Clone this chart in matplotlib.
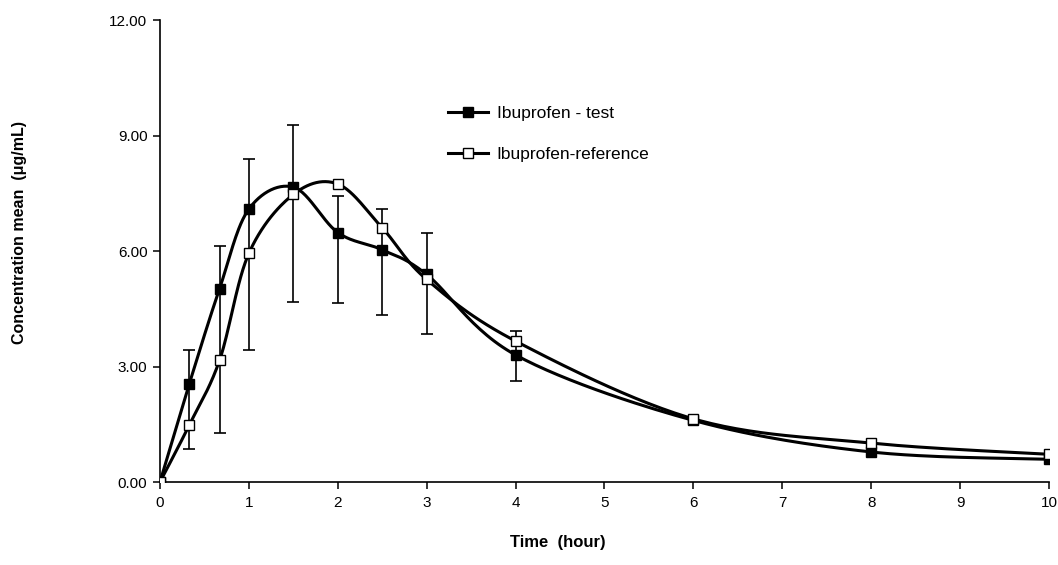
import numpy as np
import matplotlib
matplotlib.use("Agg")
import matplotlib.pyplot as plt
from matplotlib.lines import Line2D

plt.rcParams["font.family"] = ["Liberation Sans", "DejaVu Sans"]

# sampling times (hour)
time_h = [0, 0.33, 0.67, 1, 1.5, 2, 2.5, 3, 4, 6, 8, 10]
# mean concentration (ug/mL)
test_mean = [0.0, 2.55, 5.02, 7.09, 7.66, 6.48, 6.03, 5.39, 3.30, 1.60, 0.78, 0.59]
ref_mean = [0.0, 1.48, 3.16, 5.94, 7.47, 7.74, 6.60, 5.26, 3.66, 1.64, 1.01, 0.72]
# error bar ends
err_time = [0.33, 0.67, 1, 1.5, 2, 2.5, 3, 4]
err_low = [0.86, 1.28, 3.43, 4.68, 4.66, 4.35, 3.84, 2.62]
err_high = [3.43, 6.13, 8.39, 9.27, 7.43, 7.09, 6.48, 3.93]

y_ticks = [0, 3, 6, 9, 12]
x_ticks = list(range(0, 11))


def smooth(x, y, n=30):
    """Catmull-Rom style curve through the points (like a spreadsheet smoothed line)."""
    x = np.asarray(x, float)
    y = np.asarray(y, float)
    px = np.concatenate([[x[0]], x, [x[-1]]])
    py = np.concatenate([[y[0]], y, [y[-1]]])
    xs, ys = [], []
    for i in range(1, len(px) - 2):
        p0 = np.array([px[i], py[i]])
        p3 = np.array([px[i + 1], py[i + 1]])
        p1 = p0 + (np.array([px[i + 1], py[i + 1]]) - np.array([px[i - 1], py[i - 1]])) / 6
        p2 = p3 - (np.array([px[i + 2], py[i + 2]]) - np.array([px[i], py[i]])) / 6
        t = np.linspace(0, 1, n)[:, None]
        pts = ((1 - t) ** 3) * p0 + 3 * ((1 - t) ** 2) * t * p1 + 3 * (1 - t) * t ** 2 * p2 + t ** 3 * p3
        xs.append(pts[:, 0])
        ys.append(pts[:, 1])
    return np.concatenate(xs), np.concatenate(ys)


fig = plt.figure(figsize=(10.58, 5.65), dpi=100)
ax = fig.add_axes([0.1512, 0.1469, 0.8403, 0.8177])

lw = 2.2
ms = 7
mew = 1.0

mid = [(a + b) / 2 for a, b in zip(err_low, err_high)]
half = [(b - a) / 2 for a, b in zip(err_low, err_high)]
ax.errorbar(err_time, mid, yerr=half, fmt="none", ecolor="black",
            elinewidth=1.2, capsize=4.5, capthick=1.2, zorder=2)

sx, sy = smooth(time_h, test_mean)
ax.plot(sx, sy, color="black", lw=lw, zorder=3)
ax.plot(time_h, test_mean, ls="none", marker="s", ms=ms, mfc="black", mec="black", mew=mew, zorder=4)

sx, sy = smooth(time_h, ref_mean)
ax.plot(sx, sy, color="black", lw=lw, zorder=3)
ax.plot(time_h, ref_mean, ls="none", marker="s", ms=ms, mfc="white", mec="black", mew=mew, zorder=5)

ax.set_xlim(0, 10)
ax.set_ylim(0, 12)
ax.set_xticks(x_ticks)
ax.set_yticks(y_ticks)
ax.set_yticklabels([f"{v:.2f}" for v in y_ticks])
ax.tick_params(axis="both", direction="out", length=5, width=1.1, labelsize=11, color="black")
ax.tick_params(axis="x", pad=5)
ax.tick_params(axis="y", pad=4)
for side in ("top", "right"):
    ax.spines[side].set_visible(False)
for side in ("left", "bottom"):
    ax.spines[side].set_linewidth(1.2)

fig.text(0.527, 0.04, "Time  (hour)", ha="center", va="center", fontsize=12, fontweight="bold")
fig.text(0.018, 0.589, "Concentration mean  (\u03bcg/mL)", ha="center", va="center",
         rotation=90, fontsize=11.5, fontweight="bold")

handles = [
    Line2D([], [], color="black", lw=lw, marker="s", ms=ms, mfc="black", mec="black"),
    Line2D([], [], color="black", lw=lw, marker="s", ms=ms, mfc="white", mec="black"),
]
ax.legend(handles, ["Ibuprofen - test", "Ibuprofen-reference"], loc="upper left",
          bbox_to_anchor=(0.4235, 0.812), bbox_transform=fig.transFigure, frameon=False,
          fontsize=12.5, handlelength=2.3, handletextpad=0.5, labelspacing=1.45,
          borderpad=0, borderaxespad=0)

fig.savefig("out.png", dpi=100)
